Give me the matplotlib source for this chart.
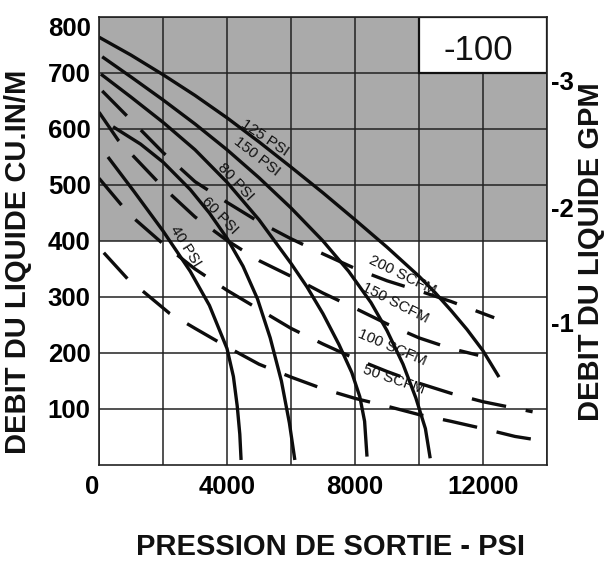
import matplotlib
matplotlib.use("Agg")
import matplotlib.pyplot as plt
from matplotlib.patches import Rectangle

plt.rcParams['font.family'] = ['Liberation Sans', 'DejaVu Sans']

# ---- data (PSI curves: solid) ----
x_125 = [0, 1000, 2000, 3000, 4000, 5000, 6000, 7000, 8000, 9000, 10000, 10500, 11000, 11500, 12000, 12500]
y_125 = [764, 732, 697, 660, 620, 577, 532, 486, 438, 389, 337, 308, 276, 242, 204, 157]

x_150 = [100, 1000, 2000, 3000, 4000, 5000, 6000, 7000, 7800, 8500, 9000, 9500, 9900, 10200, 10350]
y_150 = [729, 693, 652, 609, 563, 513, 459, 400, 346, 290, 240, 180, 120, 65, 12]

x_80 = [60, 1000, 2000, 3000, 4000, 5000, 6000, 6500, 7000, 7500, 7900, 8150, 8300, 8375]
y_80 = [698, 657, 612, 563, 505, 438, 360, 318, 270, 215, 165, 122, 78, 15]

x_60 = [440, 1300, 2000, 2850, 3450, 4000, 4500, 4950, 5350, 5700, 5950, 6120]
y_60 = [604, 573, 541, 492, 450, 405, 355, 297, 227, 150, 75, 9]

x_40 = [280, 1100, 2000, 2850, 3450, 4000, 4200, 4320, 4400, 4440]
y_40 = [550, 488, 418, 346, 285, 208, 158, 105, 55, 9]

# ---- data (SCFM curves: dashed) ----
x_200s = [100, 1000, 2000, 3000, 4000, 5000, 6000, 7000, 8000, 9000, 10000, 11000, 12350]
y_200s = [668, 616, 558, 506, 469, 434, 404, 377, 351, 329, 311, 292, 263]

x_150s = [0, 600, 1000, 2000, 3000, 4000, 5000, 6000, 7000, 8000, 9000, 10000, 11000, 11850]
y_150s = [630, 580, 556, 496, 443, 401, 365, 337, 307, 280, 252, 227, 208, 196]

x_100s = [0, 750, 1100, 2000, 3000, 4000, 5000, 6000, 7000, 8000, 9000, 10000, 11000, 12000, 13550]
y_100s = [512, 461, 440, 395, 350, 312, 278, 244, 216, 190, 167, 146, 128, 113, 95]

x_50s = [150, 900, 1400, 2200, 3000, 4000, 5000, 6000, 7000, 8000, 9000, 10000, 11000, 12000, 13000, 13550]
y_50s = [379, 332, 309, 271, 244, 211, 180, 157, 136, 119, 105, 90, 78, 65, 51, 46]

psi_labels = ["125 PSI", "150 PSI", "80 PSI", "60 PSI", "40 PSI"]
scfm_labels = ["200 SCFM", "150 SCFM", "100 SCFM", "50 SCFM"]

x_ticks = [0, 2000, 4000, 6000, 8000, 10000, 12000, 14000]
x_ticklabels = ["0", "", "4000", "", "8000", "", "12000", ""]
y_ticks = [100, 200, 300, 400, 500, 600, 700, 800]
y_ticklabels = ["100", "200", "300", "400", "500", "600", "700", "800"]
gpm_tick_pos = [255, 459, 686]
gpm_ticklabels = ["-1", "-2", "-3"]
model_label = "-100"

# ---- figure ----
fig = plt.figure(figsize=(6.16, 5.62), dpi=100)
ax = fig.add_axes([99/616, 1-465/562, 448/616, 448/562])
ax.set_xlim(0, 14000)
ax.set_ylim(0, 800)

ax.axhspan(400, 800, color='#aaaaaa', zorder=0.1, lw=0)
ax.set_axisbelow(True)
ax.set_xticks(x_ticks)
ax.set_xticklabels(x_ticklabels)
ax.set_yticks(y_ticks)
ax.set_yticklabels(y_ticklabels)
ax.grid(True, color='#222222', lw=1.1)
ax.tick_params(length=0)
ax.tick_params(axis='x', pad=7, labelsize=18.5)
ax.tick_params(axis='y', pad=6, labelsize=18.5)
for lab in ax.get_xticklabels() + ax.get_yticklabels():
    lab.set_fontweight('bold')
ax.get_xticklabels()[0].set_ha('right')
ax.get_yticklabels()[-1].set_va('top')
for s in ax.spines.values():
    s.set_color('#222222')
    s.set_linewidth(1.2)

# model box
ax.add_patch(Rectangle((10000, 700), 4000, 100, facecolor='white', edgecolor='#111111',
                       lw=1.6, zorder=1.5))
ax.text(11850, 740, model_label, fontsize=25, ha='center', va='center', color='#111111', zorder=3)

lw = 2.4
col = '#0d0d0d'
for xs, ys in [(x_125, y_125), (x_150, y_150), (x_80, y_80), (x_60, y_60), (x_40, y_40)]:
    ax.plot(xs, ys, color=col, lw=lw, zorder=2, solid_capstyle='butt', solid_joinstyle='round')
for xs, ys in [(x_200s, y_200s), (x_150s, y_150s), (x_100s, y_100s), (x_50s, y_50s)]:
    ax.plot(xs, ys, color=col, lw=lw, zorder=2, linestyle=(0, (10.5, 6)))

# curve labels
psi_pos = [(5188, 584, -34), (4938, 550, -38), (4281, 505, -47), (3781, 446, -46), (2688, 391, -58)]
for t, (x, y, r) in zip(psi_labels, psi_pos):
    ax.text(x, y, t, fontsize=11, rotation=r, rotation_mode='anchor', ha='center', va='center',
            color='#111111', zorder=3)
scfm_pos = [(9469, 339, -26), (9250, 289, -27), (9156, 209, -23), (9219, 152, -19)]
for t, (x, y, r) in zip(scfm_labels, scfm_pos):
    ax.text(x, y, t, fontsize=11, rotation=r, rotation_mode='anchor', ha='center', va='center',
            color='#111111', zorder=3)

# right axis
ax2 = ax.twinx()
ax2.set_ylim(0, 800)
ax2.set_yticks(gpm_tick_pos)
ax2.set_yticklabels(gpm_ticklabels)
ax2.tick_params(length=0, pad=3, labelsize=18.5)
for lab in ax2.get_yticklabels():
    lab.set_fontweight('bold')
for s in ax2.spines.values():
    s.set_visible(False)

fig.text(18/616, 1-262/562, "DEBIT DU LIQUIDE CU.IN/M", rotation=90, ha='center', va='center',
         fontsize=21, fontweight='bold', color='#111111')
fig.text(591/616, 1-252/562, "DEBIT DU LIQUIDE GPM", rotation=90, ha='center', va='center',
         fontsize=21, fontweight='bold', color='#111111')
fig.text(331/616, 1-547/562, "PRESSION DE SORTIE - PSI", ha='center', va='center',
         fontsize=21, fontweight='bold', color='#111111')

fig.savefig("out.png", dpi=100)
